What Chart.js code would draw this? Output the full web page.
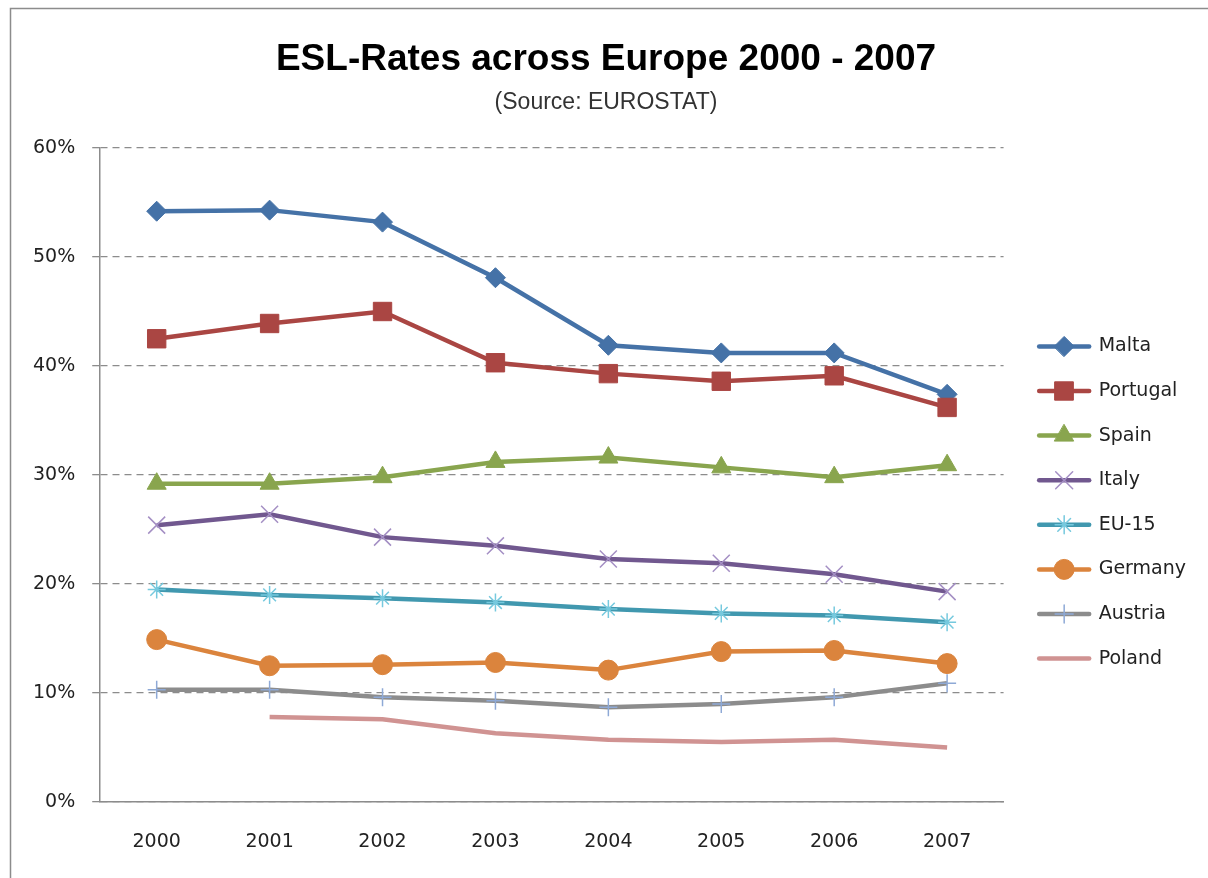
<!DOCTYPE html>
<html>
<head>
<meta charset="utf-8">
<title>ESL-Rates across Europe 2000 - 2007</title>
<script src="https://cdn.jsdelivr.net/npm/chart.js@4"></script>
<style>
  html, body { margin: 0; padding: 0; background: #fff; }
</style>
</head>
<body>
<canvas id="myChart" width="1208" height="878"></canvas>
<script>
// data (percent)
const years = ['2000', '2001', '2002', '2003', '2004', '2005', '2006', '2007'];
const yTicks = [0, 10, 20, 30, 40, 50, 60];

const malta    = [54.2, 54.3, 53.2, 48.1, 41.9, 41.2, 41.2, 37.4];
const portugal = [42.5, 43.9, 45.0, 40.3, 39.3, 38.6, 39.1, 36.2];
const spain    = [29.2, 29.2, 29.8, 31.2, 31.6, 30.7, 29.8, 30.9];
const italy    = [25.4, 26.4, 24.3, 23.5, 22.3, 21.9, 20.9, 19.3];
const eu15     = [19.5, 19.0, 18.7, 18.3, 17.7, 17.3, 17.1, 16.5];
const germany  = [14.9, 12.5, 12.6, 12.8, 12.1, 13.8, 13.9, 12.7];
const austria  = [10.3, 10.3, 9.6, 9.3, 8.7, 9.0, 9.6, 10.9];
const poland   = [null, 7.8, 7.6, 6.3, 5.7, 5.5, 5.7, 5.0];

const legendFont = 19;

function serie(label, data, color, style, radius, markColor, markWidth, order) {
  return {
    label: label,
    data: data,
    borderColor: color,
    backgroundColor: color,
    borderWidth: 4.5,
    tension: 0,
    pointStyle: style,
    pointRadius: radius,
    pointHoverRadius: radius,
    pointBackgroundColor: markColor,
    pointBorderColor: markColor,
    pointBorderWidth: markWidth,
    order: order
  };
}

// white background + thin frame around the whole chart
const frame = {
  id: 'frame',
  beforeDraw(chart) {
    const c = chart.ctx;
    c.save();
    c.fillStyle = '#fff';
    c.fillRect(0, 0, chart.width, chart.height);
    c.strokeStyle = '#8c8c8c';
    c.lineWidth = 1.5;
    c.strokeRect(10.5, 8.5, chart.width + 20, chart.height + 20);
    c.restore();
  }
};

// line + marker in front of each legend label
const legendMarks = {
  id: 'legendMarks',
  afterDraw(chart) {
    const lg = chart.legend;
    if (!lg || !lg.legendHitBoxes) return;
    const c = chart.ctx;
    lg.legendHitBoxes.forEach((hb, i) => {
      const ds = chart.data.datasets[i];
      const y = hb.top + legendFont / 2;
      const x0 = hb.left + 10, x1 = hb.left + 60;
      c.save();
      c.strokeStyle = ds.borderColor;
      c.lineWidth = ds.borderWidth;
      c.lineCap = 'round';
      c.beginPath();
      c.moveTo(x0, y);
      c.lineTo(x1, y);
      c.stroke();
      if (ds.pointRadius > 0) {
        c.fillStyle = ds.pointBackgroundColor;
        c.strokeStyle = ds.pointBorderColor;
        c.lineWidth = ds.pointBorderWidth;
        Chart.helpers.drawPoint(c, {
          pointStyle: ds.pointStyle,
          rotation: 0,
          radius: ds.pointRadius,
          borderWidth: ds.pointBorderWidth
        }, (x0 + x1) / 2, y);
      }
      c.restore();
    });
  }
};

const ctx = document.getElementById('myChart');

new Chart(ctx, {
  type: 'line',
  data: {
    labels: years,
    datasets: [
      serie('Malta', malta, '#4572A7', 'rectRot', 10, '#4572A7', 1, 8),
      serie('Portugal', portugal, '#AA4643', 'rect', 13, '#AA4643', 1, 7),
      serie('Spain', spain, '#89A54E', 'triangle', 11, '#89A54E', 1, 6),
      serie('Italy', italy, '#71588F', 'crossRot', 12, '#A48FC4', 1.5, 5),
      serie('EU-15', eu15, '#4198AF', 'star', 9, '#76C9DE', 1.5, 4),
      serie('Germany', germany, '#DB843D', 'circle', 10, '#DB843D', 1, 3),
      serie('Austria', austria, '#8C8C8C', 'cross', 9, '#8EA9D6', 1.5, 2),
      serie('Poland', poland, '#D09392', 'circle', 0, '#D09392', 1, 1)
    ]
  },
  options: {
    responsive: false,
    animation: false,
    events: [],
    layout: {
      padding: { left: 16, right: 12, top: 0, bottom: 0 }
    },
    plugins: {
      title: {
        display: true,
        text: 'ESL-Rates across Europe 2000 - 2007',
        color: '#000',
        font: { family: 'Liberation Sans', size: 37, weight: 'bold' },
        padding: { top: 38, bottom: 0 }
      },
      subtitle: {
        display: true,
        text: '(Source: EUROSTAT)',
        color: '#333',
        font: { family: 'Liberation Sans', size: 23 },
        padding: { top: 6, bottom: 32 }
      },
      legend: {
        position: 'right',
        fullSize: false,
        title: {
          display: true,
          text: '',
          padding: { top: 20, bottom: 20.6 }
        },
        labels: {
          boxWidth: 60,
          padding: 25.6,
          color: '#222',
          font: { family: 'DejaVu Sans', size: legendFont },
          generateLabels(chart) {
            return chart.data.datasets.map((ds, i) => ({
              text: ds.label,
              fillStyle: 'rgba(0,0,0,0)',
              strokeStyle: 'rgba(0,0,0,0)',
              fontColor: '#222',
              lineWidth: 0,
              hidden: false,
              datasetIndex: i
            }));
          }
        }
      },
      tooltip: { enabled: false }
    },
    scales: {
      x: {
        offset: true,
        afterFit(scale) {
          scale.height = 76;
        },
        grid: { display: false, drawTicks: false },
        border: { display: true, color: '#8c8c8c', width: 1.5 },
        ticks: {
          color: '#222',
          font: { family: 'DejaVu Sans', size: 19 },
          padding: 29
        }
      },
      y: {
        min: 0,
        max: 60,
        afterBuildTicks(scale) {
          scale.ticks = yTicks.map(v => ({ value: v }));
        },
        ticks: {
          color: '#222',
          font: { family: 'DejaVu Sans', size: 19 },
          padding: 17,
          callback: v => v + '%'
        },
        grid: { color: '#8c8c8c', lineWidth: 1.3, tickLength: 8, tickColor: '#8c8c8c' },
        border: { display: true, color: '#8c8c8c', width: 1.5, dash: [7, 5] }
      }
    }
  },
  plugins: [frame, legendMarks]
});
</script>
</body>
</html>
